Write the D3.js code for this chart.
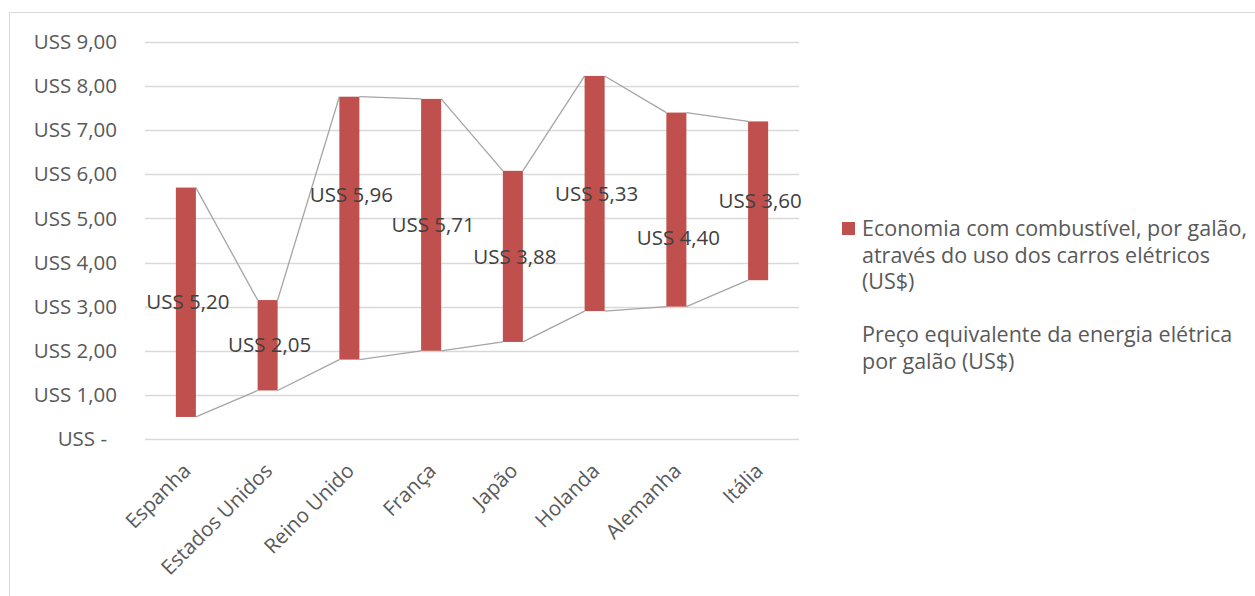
<!DOCTYPE html>
<html>
<head>
<meta charset="utf-8">
<script src="https://cdn.jsdelivr.net/npm/d3@7"></script>
<style>
  body { margin: 0; background: #fff; }
  svg text { font-family: "Open Sans", sans-serif; }
</style>
</head>
<body>
<div id="chart"></div>
<script>
// DATA
const countries = ["Espanha", "Estados Unidos", "Reino Unido", "França", "Japão", "Holanda", "Alemanha", "Itália"];
const electricPrice = [0.50, 1.10, 1.80, 2.00, 2.20, 2.90, 3.00, 3.60]; // invisible base series
const fuelSaving = [5.20, 2.05, 5.96, 5.71, 3.88, 5.33, 4.40, 3.60];     // red bars
const yTicks = [0, 1, 2, 3, 4, 5, 6, 7, 8, 9];
const legendSaving = ["Economia com combustível, por galão,", "através do uso dos carros elétricos", "(US$)"];
const legendPrice = ["Preço equivalente da energia elétrica", "por galão (US$)"];

// a couple of labels were dragged by hand in the original (pixels)
const labelNudge = [0, 0, -33, 0, 0, 0, 28, 0];

const width = 1255, height = 596;
const margin = { top: 42, left: 145, right: 456, bottom: 157 };

const fmt = v => v === 0 ? "USS -" : "USS " + d3.format(".2f")(v).replace(".", ",");

const svg = d3.select("#chart").append("svg")
  .attr("width", width)
  .attr("height", height);

// chart border
svg.append("rect")
  .attr("x", 9.5).attr("y", 12.5)
  .attr("width", width + 20).attr("height", height + 20)
  .attr("fill", "none")
  .attr("stroke", "#d9d9d9");

const x = d3.scaleBand()
  .domain(countries)
  .range([margin.left, width - margin.right])
  .paddingInner(0.755)
  .paddingOuter(0.3775);

const y = d3.scaleLinear()
  .domain([0, 9])
  .range([height - margin.bottom, margin.top]);

// gridlines
svg.append("g").selectAll("line").data(yTicks).join("line")
  .attr("x1", margin.left).attr("x2", width - margin.right)
  .attr("y1", d => Math.round(y(d)) + 0.5).attr("y2", d => Math.round(y(d)) + 0.5)
  .attr("stroke", "#d9d9d9").attr("stroke-width", 1.3);

// y axis labels
const yAxis = d3.axisLeft(y).tickValues(yTicks).tickFormat(fmt).tickSize(0).tickPadding(28);
const yAxisG = svg.append("g").attr("transform", `translate(${margin.left},0)`).call(yAxis);
yAxisG.select(".domain").remove();
yAxisG.selectAll("text")
  .attr("fill", "#595959")
  .attr("font-size", 20.5)
  .attr("dx", d => d === 0 ? -10 : 0);

// category labels
const xAxis = d3.axisBottom(x).tickSize(0);
const xAxisG = svg.append("g").attr("transform", `translate(0,${height - margin.bottom})`).call(xAxis);
xAxisG.select(".domain").remove();
xAxisG.selectAll("text")
  .attr("fill", "#595959")
  .attr("font-size", 20.5)
  .attr("text-anchor", "end")
  .attr("y", 0).attr("dy", "0.35em")
  .attr("transform", "translate(1,28) rotate(-45)");

const rows = countries.map((c, i) => ({ c, i, base: electricPrice[i], top: electricPrice[i] + fuelSaving[i], v: fuelSaving[i] }));

// series lines (connect bar tops and bottoms between neighbours)
const seriesLine = (key) => d3.pairs(rows).map(([a, b]) => [
  [x(a.c) + x.bandwidth(), y(a[key])],
  [x(b.c), y(b[key])]
]);
svg.append("g").selectAll("path")
  .data(seriesLine("top").concat(seriesLine("base")))
  .join("path")
  .attr("d", d => d3.line()(d))
  .attr("stroke", "#a5a5a5")
  .attr("stroke-width", 1.3)
  .attr("fill", "none");

// bars
svg.append("g").selectAll("rect").data(rows).join("rect")
  .attr("x", d => x(d.c))
  .attr("width", x.bandwidth())
  .attr("y", d => y(d.top))
  .attr("height", d => y(d.base) - y(d.top))
  .attr("fill", "#c0504d");

// data labels
svg.append("g").selectAll("text").data(rows).join("text")
  .attr("x", d => x(d.c) + x.bandwidth() / 2 + 2)
  .attr("y", d => (y(d.base) + y(d.top)) / 2 + labelNudge[d.i])
  .attr("dy", "0.35em")
  .attr("text-anchor", "middle")
  .attr("font-size", 20.5)
  .attr("fill", "#404040")
  .text(d => fmt(d.v));

// legend
const legend = svg.append("g").attr("transform", "translate(842,0)");
legend.append("rect")
  .attr("x", 0).attr("y", 222)
  .attr("width", 13).attr("height", 13)
  .attr("fill", "#c0504d");
legend.append("g").selectAll("text").data(legendSaving).join("text")
  .attr("x", 20)
  .attr("y", (d, i) => 236 + i * 26.5)
  .attr("font-size", 21.5)
  .attr("fill", "#595959")
  .text(d => d);
legend.append("g").selectAll("text").data(legendPrice).join("text")
  .attr("x", 20)
  .attr("y", (d, i) => 342 + i * 26.5)
  .attr("font-size", 21.5)
  .attr("fill", "#595959")
  .text(d => d);
</script>
</body>
</html>
